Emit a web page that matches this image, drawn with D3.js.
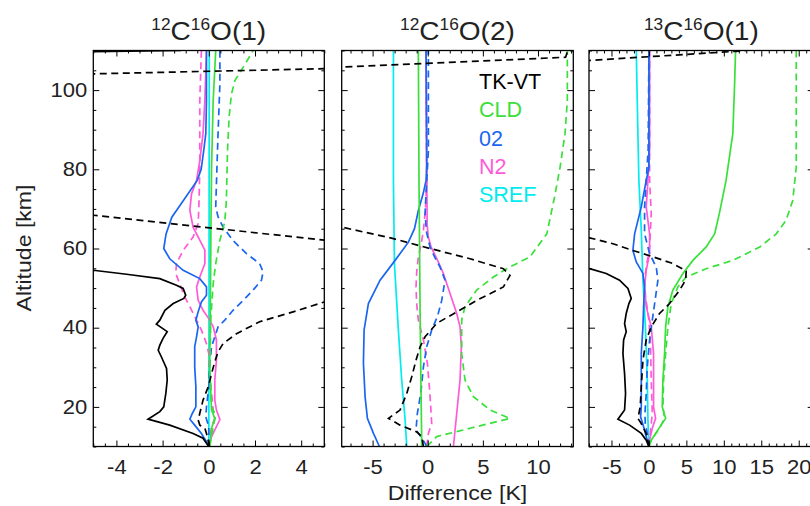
<!DOCTYPE html>
<html><head><meta charset="utf-8">
<script src="https://cdn.jsdelivr.net/npm/d3@7"></script>
<style>body{margin:0;background:#fff}</style>
</head><body>
<svg id="c" width="810" height="506" style="display:block"></svg>
<script>
// ---------------- DATA ([altitude km, difference K]) ----------------
const titles = [["12","C","16","O(1)"],["12","C","16","O(2)"],["13","C","16","O(1)"]];
const legendLabels = ["TK-VT","CLD","02","N2","SREF"];
const yTicks = [20,40,60,80,100];
const xTicks1 = [-4,-2,0,2,4];
const xTicks2 = [-5,0,5,10];
const xTicks3 = [-5,0,5,10,15,20];

// Panel 1: 12C16O(1)
const p1_tkvt_s = [[10,0],[10.8,-0.1],[12.1,-0.25],[13.3,-0.68],[15.4,-1.69],[16.9,-2.63],[18.8,-2.12],[20,-1.95],[23.4,-1.86],[26.8,-1.8],[29.7,-1.83],[32.6,-2.05],[34.3,-2.19],[35.6,-2.12],[37.3,-1.98],[39,-1.8],[40.9,-2.27],[41.9,-2.12],[44.4,-1.9],[46.1,-1.54],[47.4,-1.08],[48.2,-1.0],[49.9,-1.11],[50.7,-1.4],[52.4,-2.12],[53.5,-3.56],[54.5,-5.0],[55,-7],[109.6,-7],[110,-1.2]];
const p1_tkvt_d = [[10,0],[10.8,0],[13.3,-0.1],[14.6,-0.17],[15.4,-0.39],[16.7,-0.46],[18.4,-0.39],[21.7,-0.25],[25,-0.03],[28.4,0.12],[31.4,0.26],[33.9,0.4],[36,0.62],[38.5,1.2],[41.5,2.2],[44,3.65],[46.5,5.0],[54,9],[62.1,5],[68.4,-5],[69,-9],[103.8,-9],[104.1,-5],[105.4,5],[106,9],[110,9]];
const p1_cld_s = [[10,0.04],[14.6,0.12],[17.1,0.26],[19.2,0.12],[30.1,0.04],[46.9,0.07],[63.7,0.09],[80.5,0.12],[97.4,0.19],[110,0.3]];
const p1_cld_d = [[10,0.04],[15,0.19],[17.9,0.3],[20,0.12],[30.1,0.04],[42.7,0.09],[51.1,0.19],[56.2,0.3],[62.1,0.48],[66.7,0.69],[72.1,0.76],[84.7,0.81],[93.2,0.88],[99,0.98],[102.4,1.13],[105.8,1.49],[110,1.92]];
const p1_o2_s = [[10,0],[11.2,-0.1],[13.3,-0.32],[15.4,-0.61],[16.9,-0.82],[18.4,-0.71],[20,-0.56],[25.1,-0.56],[30.1,-0.61],[35.2,-0.61],[37.7,-0.53],[40.2,-0.46],[41.9,-0.56],[44,-0.46],[46.5,-0.32],[48.2,-0.1],[50.3,-0.1],[52.4,-0.39],[54.5,-1.11],[57.4,-1.69],[60,-1.95],[63.7,-1.85],[67.9,-1.6],[72.1,-1.1],[77.2,-0.5],[80,-0.33],[84.7,-0.22],[89,-0.13],[97.4,-0.1],[110,-0.1]];
const p1_o2_d = [[10,0],[15,0],[17.5,-0.13],[20,-0.1],[25.1,0],[31,0.04],[35.2,0.12],[37.7,0.26],[40.2,0.4],[41.9,0.69],[44.4,1.05],[46.9,1.49],[49.5,1.92],[52,2.28],[54.1,2.35],[56.2,2.2],[58.7,1.63],[62,1.05],[65.4,0.62],[68,0.4],[70.5,0.3],[76.3,0.33],[89,0.4],[101.5,0.48],[110,0.48]];
const p1_n2_s = [[10,0],[12.5,0.12],[15,0.33],[16.8,0.48],[19.2,0.33],[21.7,0.26],[26.8,0.26],[31.8,0.33],[36.9,0.33],[40.2,0.19],[42.3,0],[44.4,-0.25],[46.9,-0.46],[50.3,-0.53],[52.8,-0.39],[56.2,-0.17],[59.6,-0.17],[62.1,-0.39],[65.4,-0.68],[69.6,-0.82],[73.8,-0.75],[77.2,-0.53],[82.2,-0.39],[89,-0.25],[97.4,-0.17],[110,-0.1]];
const p1_n2_d = [[10,0],[15,0.12],[17.1,0.26],[19.2,0.19],[23.4,0.12],[28.4,0.04],[33.5,0],[36,-0.1],[39.4,-0.32],[41.9,-0.53],[45.3,-0.82],[47.8,-1.04],[51.1,-1.26],[53.7,-1.43],[56.2,-1.4],[59.5,-1.11],[62.9,-0.68],[66.3,-0.46],[72.1,-0.42],[80.5,-0.39],[97.4,-0.39],[110,-0.32]];
const p1_sref_s = [[10,0],[50,0.01],[110,0.02]];

// Panel 2: 12C16O(2)
const p2_tkvt_d = [[10,-0.39],[12.5,-0.54],[13.7,-1.0],[15.4,-2.51],[17.1,-3.56],[19.2,-2.51],[23.4,-1.9],[27.6,-1.45],[31.8,-1.06],[35.2,-0.69],[37.7,-0.24],[41.1,0.82],[44,2.63],[46.9,4.44],[50.3,6.86],[53.2,7.46],[54.9,6.86],[57.4,3.84],[60,0.21],[62.5,-3.11],[65.4,-7.8],[66,-10],[105.5,-10],[105.8,-7.8],[108.3,12.5],[110,12.7]];
const p2_cld_s = [[10,-0.54],[22.6,-0.6],[43.6,-0.69],[77.2,-0.79],[110,-0.85]];
const p2_cld_d = [[10,-0.09],[12.5,0.82],[14.6,3.84],[17.1,7.46],[19.2,5.65],[22.6,4.14],[26.8,3.38],[33.5,3.08],[41.9,3.08],[45.3,3.38],[49.5,4.44],[52.8,5.95],[54.9,7.16],[57.9,9.27],[63.7,10.8],[73,11.5],[80.5,12.0],[89,12.45],[97.4,12.66],[110,12.66]];
const p2_o2_s = [[10,-4.38],[13.3,-4.92],[17.1,-5.47],[22.6,-5.68],[31,-5.83],[39.4,-5.77],[46.1,-5.38],[52,-4.32],[57,-2.96],[61.6,-1.75],[65,-1.2],[69.6,-0.85],[74,-0.4],[77.2,-0.15],[80.5,-0.09],[110,-0.15]];
const p2_o2_d = [[10,-0.09],[10.8,-0.24],[12.5,-0.63],[14.2,-1.06],[18.4,-0.94],[23.4,-0.63],[30.1,-0.39],[35.2,-0.09],[39.4,0.36],[43,0.9],[46.9,1.27],[52,1.57],[55.3,1.12],[58,0.6],[60.4,0.21],[64,-0.1],[68.8,-0.24],[77.2,-0.09],[84.7,0.06],[110,0.06]];
const p2_n2_s = [[10,2.33],[18.4,2.63],[26.8,2.93],[35.2,3.05],[40.2,2.93],[43.6,2.63],[48,2.1],[53.7,1.42],[57,0.9],[60.4,0.3],[63,0.05],[66,-0.05],[80.5,-0.09],[110,-0.15]];
const p2_n2_d = [[10,-0.09],[13.3,0.06],[15.8,0.36],[20,0.27],[25.1,0.15],[31,-0.03],[36.9,-0.39],[41.9,-0.85],[46,-1.0],[50.3,-1.06],[54,-1.0],[57.9,-0.85],[61,-0.6],[64.6,-0.39],[70,-0.2],[77.2,-0.09],[110,-0.15]];
const p2_sref_s = [[10,-1.9],[16.7,-2.05],[26.8,-2.36],[39.4,-2.66],[56.2,-3.02],[77.2,-3.11],[110,-3.11]];

// Panel 3: 13C16O(1)
const p3_tkvt_s = [[10,0],[11.6,-0.36],[13.3,-1.02],[15.4,-2.58],[16.9,-4.14],[19.2,-3.25],[23.4,-3.12],[28.4,-3.25],[33.5,-3.47],[36.9,-3.38],[39,-3.03],[41,-3.25],[43.6,-3.03],[46.1,-2.67],[47.4,-2.36],[49.9,-2.8],[52,-3.92],[53.7,-5.7],[54.9,-7.92],[55.3,-10],[110,-10]];
const p3_tkvt_d = [[10,0],[13.3,-0.36],[15.8,-1.02],[17.1,-1.47],[20,-1.16],[25.1,-1.02],[31.8,-0.8],[36.9,-0.36],[40.2,0.31],[43.6,1.42],[46.1,2.76],[49.5,4.1],[52,4.9],[54.3,4.98],[56.2,3.2],[57.9,0.53],[59.5,-2.14],[61.2,-4.8],[62.7,-7.92],[63,-10],[107.3,-10],[107.5,-7.92],[109.8,11.66],[110,13]];
const p3_cld_s = [[10,0],[11.6,0.31],[14.2,1.2],[17.1,2.23],[20,1.78],[26.8,1.87],[33.5,2.09],[40.2,2.23],[45.3,2.54],[49.5,3.2],[53.7,4.54],[57,5.87],[60.4,7.65],[63.7,8.77],[68.8,9.4],[77.2,10.3],[89,11.2],[101.5,11.44],[110,11.57]];
const p3_cld_d = [[10,0],[11.6,0.31],[14.6,1.42],[17.1,2.09],[20,1.87],[26.8,1.96],[33.5,2.23],[40.2,2.54],[46.1,2.98],[50.3,3.87],[52.8,4.98],[54.9,7.65],[57,11.2],[60.4,14.8],[63.7,17.0],[67.1,18.3],[72.1,19.2],[80.5,19.67],[110,19.67]];
const p3_o2_s = [[10,0],[10.8,-0.13],[15,-0.71],[17.5,-1.11],[20,-1.02],[26.8,-1.02],[33.5,-1.02],[40.2,-0.8],[45.3,-0.71],[50.3,-0.58],[53.7,-0.8],[56.6,-1.69],[59.5,-2.14],[63.7,-1.91],[70.5,-1.02],[77.2,-0.36],[80.5,0],[110,0]];
const p3_o2_d = [[10,0],[12.5,-0.13],[15.8,-0.49],[18.4,-0.53],[23.4,-0.36],[30.1,-0.22],[36.9,0.09],[41.9,0.45],[47.8,0.89],[52,1.2],[55.3,0.98],[58.7,0.09],[63.7,-0.58],[70.5,-0.58],[77.2,-0.36],[85,-0.1],[110,0]];
const p3_n2_s = [[10,0],[11.6,0.09],[14.6,0.45],[17.1,0.89],[20,0.62],[26.8,0.62],[33.5,0.62],[40.2,0.31],[45.3,-0.36],[50.3,-0.58],[54.5,-0.36],[58.7,0.09],[63.7,0.09],[70.5,-0.36],[77.2,-0.13],[85,0.09],[110,0.09]];
const p3_n2_d = [[10,0],[15.8,0.31],[18.4,0.45],[26.8,0.31],[35.2,0.22],[41.9,0],[47.8,-0.45],[52,-0.58],[55.3,-0.36],[60.4,0.09],[68.8,0.31],[77.2,0.09],[110,0.09]];
const p3_sref_s = [[10,0],[16.7,-0.13],[26.8,-0.22],[39.4,-0.45],[52,-0.8],[64.6,-1.02],[77.2,-1.34],[89,-1.47],[110,-1.69]];

// ---------------- STYLE / LAYOUT ----------------
const COL = {tkvt:"#000000", cld:"#3ae03a", o2:"#1a66f0", n2:"#ff5ad8", sref:"#00ecf0"};
const legendColors = [COL.tkvt, COL.cld, COL.o2, COL.n2, COL.sref];
const FONT = "'Liberation Sans', Arial, Helvetica, sans-serif";
const TXT = "#222";
const SX = 1.13;           // horizontal stretch of tick labels
const TOP = 50.5, BOT = 446.5;

const panels = [
  {x0:93.3, x1:324.3, dom:[-5,5], major:xTicks1, minorStep:0.5, title:titles[0],
   series:[[p1_sref_s,"sref",false],[p1_n2_d,"n2",true],[p1_n2_s,"n2",false],[p1_o2_d,"o2",true],[p1_o2_s,"o2",false],[p1_cld_d,"cld",true],[p1_cld_s,"cld",false],[p1_tkvt_d,"tkvt",true],[p1_tkvt_s,"tkvt",false]]},
  {x0:341.7, x1:573.3, dom:[-7.8,13.2], major:xTicks2, minorStep:1, title:titles[1],
   series:[[p2_sref_s,"sref",false],[p2_n2_d,"n2",true],[p2_n2_s,"n2",false],[p2_o2_d,"o2",true],[p2_o2_s,"o2",false],[p2_cld_d,"cld",true],[p2_cld_s,"cld",false],[p2_tkvt_d,"tkvt",true]]},
  {x0:589, x1:813.7, dom:[-8,22], major:xTicks3, minorStep:1, title:titles[2],
   series:[[p3_sref_s,"sref",false],[p3_n2_d,"n2",true],[p3_n2_s,"n2",false],[p3_o2_d,"o2",true],[p3_o2_s,"o2",false],[p3_cld_d,"cld",true],[p3_cld_s,"cld",false],[p3_tkvt_d,"tkvt",true],[p3_tkvt_s,"tkvt",false]]}
];

const svg = d3.select("#c");
const y = d3.scaleLinear().domain([10,110]).range([BOT,TOP]);
const yMinor = d3.range(10,111,5);

panels.forEach((p,i)=>{
  const x = d3.scaleLinear().domain(p.dom).range([p.x0,p.x1]);
  const g = svg.append("g");
  const cid = "clip"+i;
  svg.append("clipPath").attr("id",cid).append("rect")
     .attr("x",p.x0).attr("y",TOP).attr("width",p.x1-p.x0).attr("height",BOT-TOP);

  // curves
  const line = d3.line().x(d=>x(d[1])).y(d=>y(d[0]));
  const cg = g.append("g").attr("clip-path",`url(#${cid})`);
  p.series.forEach(([data,key,dashed])=>{
    cg.append("path").attr("d",line(data)).attr("fill","none")
      .attr("stroke",COL[key]).attr("stroke-width",1.7)
      .attr("stroke-dasharray",dashed?"7,4.5":null);
  });

  // axes
  const lo = Math.ceil(p.dom[0]/p.minorStep)*p.minorStep;
  const xMinor = d3.range(lo, p.dom[1]+1e-9, p.minorStep).filter(v=>!p.major.includes(v));
  const styleAx = sel => { sel.select(".domain").remove(); sel.selectAll("line").attr("stroke","#000").attr("stroke-width",1); };
  // bottom
  g.append("g").attr("transform",`translate(0,${BOT})`).call(d3.axisBottom(x).tickValues(xMinor).tickSize(-3).tickFormat("")).call(styleAx);
  const bx = g.append("g").attr("transform",`translate(0,${BOT})`).call(d3.axisBottom(x).tickValues(p.major).tickSize(-6).tickPadding(13.7).tickFormat(d=>String(d))).call(styleAx);
  bx.selectAll("text").attr("font-family",FONT).attr("font-size",19.5).attr("fill",TXT).attr("transform",`scale(${SX},1)`);
  // top
  g.append("g").attr("transform",`translate(0,${TOP})`).call(d3.axisTop(x).tickValues(xMinor).tickSize(-3).tickFormat("")).call(styleAx);
  g.append("g").attr("transform",`translate(0,${TOP})`).call(d3.axisTop(x).tickValues(p.major).tickSize(-6).tickFormat("")).call(styleAx);
  // left / right
  const yMin = yMinor.filter(v=>!yTicks.includes(v));
  g.append("g").attr("transform",`translate(${p.x0},0)`).call(d3.axisLeft(y).tickValues(yMin).tickSize(-3).tickFormat("")).call(styleAx);
  const ly = g.append("g").attr("transform",`translate(${p.x0},0)`).call(d3.axisLeft(y).tickValues(yTicks).tickSize(-6).tickPadding(5.3).tickFormat(i===0?(d=>String(d)):"")).call(styleAx);
  ly.selectAll("text").attr("font-family",FONT).attr("font-size",19.5).attr("fill",TXT).attr("transform",`scale(${SX},1)`);
  g.append("g").attr("transform",`translate(${p.x1},0)`).call(d3.axisRight(y).tickValues(yMin).tickSize(-3).tickFormat("")).call(styleAx);
  g.append("g").attr("transform",`translate(${p.x1},0)`).call(d3.axisRight(y).tickValues(yTicks).tickSize(-6).tickFormat("")).call(styleAx);
  // frame
  g.append("rect").attr("x",p.x0).attr("y",TOP).attr("width",p.x1-p.x0).attr("height",BOT-TOP)
   .attr("fill","none").attr("stroke","#000").attr("stroke-width",1.3);

  // title
  const t = svg.append("text").attr("transform",`translate(${(p.x0+p.x1)/2},40) scale(1.08,1)`).attr("text-anchor","middle")
     .attr("font-family",FONT).attr("font-size",26).attr("fill",TXT);
  t.append("tspan").attr("font-size",16).attr("dy",-10).text(p.title[0]);
  t.append("tspan").attr("dy",10).text(p.title[1]);
  t.append("tspan").attr("font-size",16).attr("dy",-10).text(p.title[2]);
  t.append("tspan").attr("dy",10).text(p.title[3]);
});

// legend (panel 2)
legendLabels.forEach((lab,k)=>{
  svg.append("text").attr("x",479).attr("y",89+k*28.3).attr("font-family",FONT)
    .attr("font-size",21.5).attr("fill",legendColors[k]).text(lab);
});

// axis labels
svg.append("text").attr("transform","translate(457.5,500) scale(1.1,1)").attr("text-anchor","middle")
  .attr("font-family",FONT).attr("font-size",21).attr("fill",TXT).text("Difference [K]");
svg.append("text").attr("transform","translate(31,248) rotate(-90) scale(1.1,1)").attr("text-anchor","middle")
  .attr("font-family",FONT).attr("font-size",21).attr("fill",TXT).text("Altitude [km]");
</script>
</body></html>
